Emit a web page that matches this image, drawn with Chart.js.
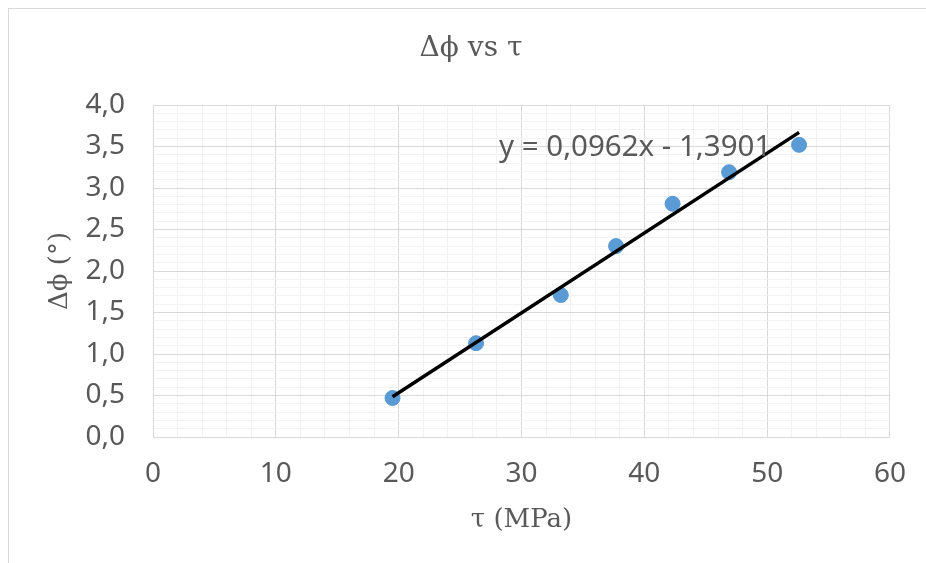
<!DOCTYPE html>
<html>
<head>
<meta charset="utf-8">
<script src="https://cdn.jsdelivr.net/npm/chart.js@4/dist/chart.umd.min.js"></script>
<style>
html,body{margin:0;padding:0;background:#fff;}
canvas{display:block;}
</style>
</head>
<body>
<canvas id="c" width="926" height="563"></canvas>
<script>
// Data
const tau = [19.5, 26.3, 33.2, 37.7, 42.3, 46.9, 52.6];
const dphi = [0.47, 1.13, 1.71, 2.30, 2.81, 3.19, 3.52];
const trendSlope = 0.0962;
const trendIntercept = -1.3901;
const trendLabel = 'y = 0,0962x - 1,3901';
const chartTitle = 'Δϕ vs τ';
const xTitle = 'τ (MPa)';
const yTitle = 'Δϕ (°)';

const trendX = [tau[0], tau[tau.length - 1]];
const trendPts = trendX.map(x => ({x: x, y: trendSlope * x + trendIntercept}));
const pts = tau.map((x, i) => ({x: x, y: dphi[i]}));

const FONT = "'Noto Sans', 'DejaVu Sans', sans-serif";
const SERIF = "'DejaVu Serif', 'Liberation Serif', serif";
const TXT = '#595959';

const framePlugin = {
  id: 'frame',
  beforeDraw(chart) {
    const c = chart.ctx;
    c.save();
    c.fillStyle = '#fff';
    c.fillRect(0, 0, chart.width, chart.height);
    c.strokeStyle = '#d9d9d9';
    c.lineWidth = 1;
    c.strokeRect(8.5, 8.5, 2000, 2000);
    // chart title
    c.fillStyle = TXT;
    c.font = '28px ' + SERIF;
    c.textAlign = 'center';
    c.textBaseline = 'middle';
    c.fillText(chartTitle, 471, 49);
    c.restore();
  },
  afterDatasetsDraw(chart) {
    const c = chart.ctx;
    c.save();
    c.fillStyle = TXT;
    c.font = '29.5px ' + FONT;
    c.textAlign = 'left';
    c.textBaseline = 'middle';
    c.fillText(trendLabel, 499, 148);
    c.restore();
  }
};

new Chart(document.getElementById('c'), {
  type: 'scatter',
  data: {
    datasets: [
      {
        label: 'data',
        data: pts,
        backgroundColor: '#5b9bd5',
        borderColor: '#5b9bd5',
        pointRadius: 7.5,
        pointHoverRadius: 7.5,
        order: 2
      },
      {
        label: 'trend',
        type: 'line',
        data: trendPts,
        borderColor: '#000',
        borderWidth: 3.5,
        pointRadius: 0,
        fill: false,
        order: 1
      }
    ]
  },
  options: {
    responsive: false,
    animation: false,
    layout: {padding: {left: 0, right: 33, top: 105, bottom: 0}},
    plugins: {
      legend: {display: false},
      tooltip: {enabled: false},
      title: {display: false}
    },
    scales: {
      x: {
        type: 'linear',
        min: 0, max: 60,
        afterFit(s) { s.height = 126; },
        border: {display: true, color: '#d9d9d9'},
        grid: {
          drawTicks: false,
          color: (ctx) => (ctx.tick && Math.round(ctx.tick.value) % 10 === 0) ? '#d9d9d9' : '#f2f2f2',
          lineWidth: 1
        },
        ticks: {
          stepSize: 2,
          autoSkip: false,
          maxRotation: 0,
          padding: 20,
          color: TXT,
          font: {family: FONT, size: 28},
          callback: (v) => (Math.round(v) % 10 === 0) ? String(Math.round(v)) : ''
        },
        title: {
          display: true,
          text: xTitle,
          color: TXT,
          font: {family: SERIF, size: 26, lineHeight: 1.2},
          padding: {top: 0, bottom: 27}
        }
      },
      y: {
        type: 'linear',
        min: 0, max: 4,
        afterFit(s) { s.width = 153; },
        border: {display: true, color: '#d9d9d9'},
        grid: {
          drawTicks: false,
          color: (ctx) => (ctx.tick && Math.round(ctx.tick.value * 10) % 5 === 0) ? '#d9d9d9' : '#f2f2f2',
          lineWidth: 1
        },
        ticks: {
          stepSize: 0.1,
          autoSkip: false,
          padding: 28,
          color: TXT,
          font: {family: FONT, size: 28},
          callback: (v) => (Math.round(v * 10) % 5 === 0) ? v.toFixed(1).replace('.', ',') : ''
        },
        title: {
          display: true,
          text: yTitle,
          color: TXT,
          font: {family: SERIF, size: 26, lineHeight: 1.2},
          padding: {top: 45, bottom: 0}
        }
      }
    }
  },
  plugins: [framePlugin]
});
</script>
</body>
</html>
